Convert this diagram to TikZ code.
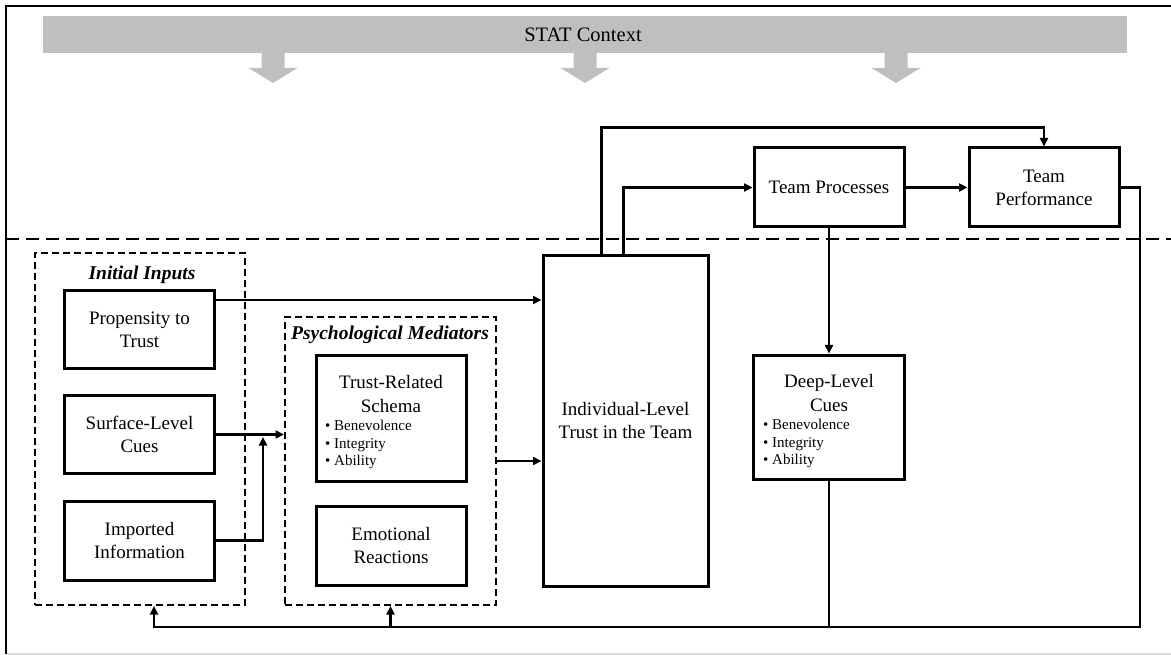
\documentclass[tikz,border=0pt]{standalone}
\usepackage{fontspec}
\setmainfont{Liberation Serif}
\usetikzlibrary{arrows.meta,calc}
\definecolor{ctxgray}{RGB}{191,191,191}
\begin{document}
\begin{tikzpicture}[x=1pt,y=-1pt,
 box/.style={draw,line width=3pt,inner sep=0pt,align=center,font=\fontsize{19}{23}\selectfont},
 grp/.style={draw,line width=2pt,dash pattern=on 7pt off 4pt,inner sep=0pt},
 conn/.style={line width=2.7pt},
 arr/.style={conn,-{Triangle[length=8.5pt,width=8pt]}},
 lbl/.style={font=\fontsize{19.5}{23}\selectfont\bfseries\itshape,inner sep=0pt},
 txt/.style={font=\fontsize{19}{24}\selectfont,align=center,inner sep=0pt},
 bul/.style={font=\fontsize{15}{17.5}\selectfont,align=left,inner sep=0pt,anchor=north west},
]
\useasboundingbox (0,0) rectangle (1171,655);
% frame
\draw[line width=2pt,gray!30] (6,654) -- (1175,654);
\draw[line width=2.2pt] (6,654) -- (6,6) -- (1175,6);
% context bar
\fill[ctxgray] (43,16) rectangle (1127,53);
\node[inner sep=0pt,font=\fontsize{20.5}{24}\selectfont] (ctx) at (583,35) {STAT Context};
\foreach \c in {273,585,896}
  \fill[ctxgray] (\c-11.5,52) -- (\c+11.5,52) -- (\c+11.5,68) -- (\c+24.5,68) -- (\c,83) -- (\c-24.5,68) -- (\c-11.5,68) -- cycle;
% separator
\draw[line width=2pt,dash pattern=on 13pt off 7pt] (6,239) -- (1175,239);
% groups
\node[grp,minimum width=210pt,minimum height=352pt] (init) at (140,429) {};
\node[grp,minimum width=211pt,minimum height=288pt] (psych) at (390.5,461) {};
\node[lbl,anchor=base] (initl) at (142,280) {Initial Inputs};
\node[lbl,anchor=base] (psychl) at (390,339) {Psychological Mediators};
% boxes
\node[box,minimum width=150pt,minimum height=78pt] (prop) at (139.5,329.5) {Propensity to\\Trust};
\node[box,minimum width=150pt,minimum height=78pt] (surf) at (139.5,434.5) {Surface-Level\\Cues};
\node[box,minimum width=150pt,minimum height=79pt] (imp) at (139.5,540.5) {Imported\\Information};
\node[box,minimum width=150pt,minimum height=126pt] (schema) at (391,418) {};
\node[txt] (schemat) at (391,394) {Trust-Related\\Schema};
\node[bul] (schemab) at (325,420) {• Benevolence\\• Integrity\\• Ability};
\node[box,minimum width=150pt,minimum height=79pt] (emo) at (391,545.5) {Emotional\\Reactions};
\node[box,minimum width=165pt,minimum height=330pt] (ind) at (625.5,421) {Individual-Level\\Trust in the Team};
\node[box,minimum width=150pt,minimum height=79pt] (tp) at (829,187.5) {Team Processes};
\node[box,minimum width=150pt,minimum height=79pt] (tperf) at (1044,187.5) {Team\\Performance};
\node[box,minimum width=151pt,minimum height=124pt] (deep) at (829,417) {};
\node[txt] (deept) at (829,393) {Deep-Level\\Cues};
\node[bul] (deepb) at (763,419) {• Benevolence\\• Integrity\\• Ability};
% connectors
\draw[arr] ([yshift=-11pt]prop.north east) -- ([yshift=-11pt]prop.north east -| ind.west);
\draw[arr] (surf.east) -- (surf.east -| psych.west);
\coordinate (sj) at (263,437);
\draw[arr] (imp.east) -| (sj);
\draw[arr] (psych.east) -- (psych.east -| ind.west);
\draw[arr] ([xshift=60pt]ind.north west) -- ++(0,-127) -| (tperf.north);
\draw[arr] ([xshift=82pt]ind.north west) |- (tp.west);
\draw[arr] (tp.east) -- (tperf.west);
\draw[arr] (tp.south) -- (deep.north);
\coordinate (fr) at (1140,627);
\draw[arr] (tperf.east) -| (fr) -| ([xshift=14pt]init.south);
\draw[conn] (deep.south) -- (deep.south |- fr);
\draw[arr] (psych.south |- fr) -- (psych.south);
\end{tikzpicture}
\end{document}
